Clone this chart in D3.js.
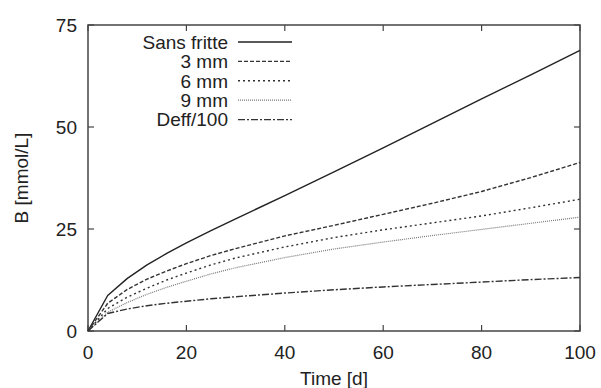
<!DOCTYPE html>
<html><head><meta charset="utf-8">
<script src="https://cdn.jsdelivr.net/npm/d3@7"></script>
<style>body{margin:0;background:#fff}svg{display:block}text{font-family:"Liberation Sans",Arial,sans-serif;fill:#222}</style>
</head><body>
<svg id="c" width="601" height="388"></svg>
<script>
const times = [0,4,8,12,16,20,25,30,40,50,60,70,80,90,100];
const sansFritte = [0,8.7,12.9,16.2,19.0,21.6,24.6,27.5,33.2,39.0,44.9,50.9,56.9,62.8,68.8];
const mm3 = [0,6.8,10.2,12.7,14.7,16.5,18.5,20.2,23.3,25.9,28.6,31.3,34.2,37.6,41.3];
const mm6 = [0,5.5,8.3,10.5,12.5,14.2,16.2,17.9,20.6,22.9,24.8,26.5,28.2,30.2,32.3];
const mm9 = [0,4.6,7.0,9.0,10.7,12.2,14.0,15.5,18.0,20.1,21.8,23.4,24.9,26.4,27.9];
const deff = [0,4.3,5.4,6.2,6.8,7.3,7.9,8.4,9.3,10.1,10.8,11.4,12.0,12.6,13.1];
const seriesNames = ["Sans fritte","3 mm","6 mm","9 mm","Deff/100"];
const xTicks = [0,20,40,60,80,100];
const yTicks = [0,25,50,75];
const xLabel = "Time [d]";
const yLabel = "B [mmol/L]";

const styles = [
  {dash:null, color:"#222", w:1.4},
  {dash:"4,2", color:"#333", w:1.4},
  {dash:"2,3", color:"#333", w:1.4},
  {dash:"1,1", color:"#777", w:1.2},
  {dash:"7,2,2,2", color:"#333", w:1.4}
];
const seriesData = [sansFritte, mm3, mm6, mm9, deff];

const svg = d3.select("#c");
const L=88,R=580,T=25,B=331;
const x = d3.scaleLinear().domain([0,100]).range([L,R]);
const y = d3.scaleLinear().domain([0,75]).range([B,T]);
const fs = 19;

const g = svg.append("g").attr("stroke","#444").attr("stroke-width",1.2);
xTicks.forEach(t=>{
  g.append("line").attr("x1",x(t)).attr("x2",x(t)).attr("y1",B).attr("y2",B-6);
  g.append("line").attr("x1",x(t)).attr("x2",x(t)).attr("y1",T).attr("y2",T+6);
});
yTicks.forEach(t=>{
  g.append("line").attr("x1",L).attr("x2",L+6).attr("y1",y(t)).attr("y2",y(t));
  g.append("line").attr("x1",R).attr("x2",R-6).attr("y1",y(t)).attr("y2",y(t));
});
svg.append("rect").attr("x",L).attr("y",T).attr("width",R-L).attr("height",B-T)
  .attr("fill","none").attr("stroke","#444").attr("stroke-width",1.5);

xTicks.forEach(t=>{
  svg.append("text").attr("x",x(t)).attr("y",359).attr("text-anchor","middle")
    .attr("font-size",fs).text(t);
});
yTicks.forEach(t=>{
  svg.append("text").attr("x",77).attr("y",y(t)+6.8).attr("text-anchor","end")
    .attr("font-size",fs).text(t);
});
svg.append("text").attr("x",(L+R)/2).attr("y",385).attr("text-anchor","middle")
  .attr("font-size",fs).text(xLabel);
svg.append("text").attr("transform",`translate(28,${(T+B)/2}) rotate(-90)`)
  .attr("text-anchor","middle").attr("font-size",fs).text(yLabel);

const line = d3.line().x((d,i)=>x(times[i])).y(d=>y(d));
seriesData.forEach((s,i)=>{
  svg.append("path").datum(s).attr("d",line).attr("fill","none")
    .attr("stroke",styles[i].color).attr("stroke-width",styles[i].w)
    .attr("stroke-dasharray",styles[i].dash).attr("stroke-linejoin","round");
});

seriesNames.forEach((n,i)=>{
  const cy = 42 + i*19.4;
  svg.append("text").attr("x",228).attr("y",cy+6.8).attr("text-anchor","end")
    .attr("font-size",fs).text(n);
  svg.append("line").attr("x1",238).attr("x2",292).attr("y1",cy).attr("y2",cy)
    .attr("stroke",styles[i].color).attr("stroke-width",styles[i].w)
    .attr("stroke-dasharray",styles[i].dash);
});
</script>
</body></html>
